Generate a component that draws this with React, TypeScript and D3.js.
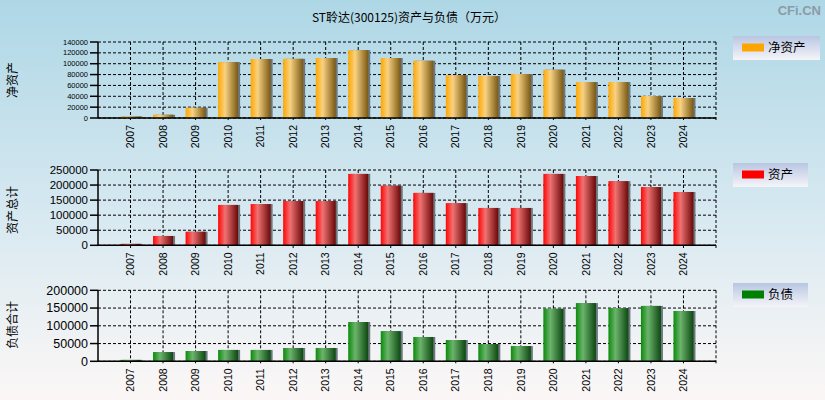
import React from "react";
import * as d3 from "d3";

const years = ["2007","2008","2009","2010","2011","2012","2013","2014","2015","2016","2017","2018","2019","2020","2021","2022","2023","2024"];
const netAssets = [2800, 6000, 19000, 103000, 108700, 109000, 110500, 125000, 110500, 105500, 79000, 77400, 81000, 89000, 66300, 66300, 40500, 36800];
const totalAssets = [4800, 31000, 45000, 134000, 137000, 147000, 147000, 237000, 198000, 174000, 140000, 124000, 124000, 237000, 230000, 213000, 193500, 177000];
const liabilities = [4000, 26000, 29000, 32000, 32000, 37500, 37500, 110700, 85000, 68500, 60000, 48700, 43000, 148000, 164000, 150000, 156000, 141700];

const ticksNet = [0, 20000, 40000, 60000, 80000, 100000, 120000, 140000];
const ticksAssets = [0, 50000, 100000, 150000, 200000, 250000];
const ticksLiab = [0, 50000, 100000, 150000, 200000];

const TITLE = "ST聆达(300125)资产与负债（万元）";
const LATIN = "'Liberation Sans', Arial, sans-serif";
const CJK = "'Noto Sans CJK SC', 'Liberation Sans', sans-serif";

const X0 = 98, X1 = 716;
const x = d3.scaleLinear().domain([0, 19]).range([X0, X1]);

type PanelProps = {
  values: number[]; ticks: number[]; top: number; bottom: number; max: number;
  gradId: string; yTitle: string; titleY: number; tickFont: number;
  legend: string; legendColor: string; legendTop: number; legendW: number;
};

function Panel(p: PanelProps) {
  const y = d3.scaleLinear().domain([0, p.max]).range([p.bottom, p.top]);
  const bw = 20;
  return (
    <g>
      {p.ticks.map((t) => (
        <line key={"h" + t} x1={X0} x2={X1} y1={y(t)} y2={y(t)} stroke="#000" strokeDasharray="3,2" strokeWidth={1} />
      ))}
      {years.map((yr, i) => (
        <line key={"v" + yr} x1={x(i + 1)} x2={x(i + 1)} y1={p.top} y2={p.bottom + 4} stroke="#000" strokeDasharray="3,2" strokeWidth={1} />
      ))}
      <line x1={X1} x2={X1} y1={p.top} y2={p.bottom + 4} stroke="#000" strokeDasharray="3,2" />
      {p.values.map((v, i) => {
        const cx = x(i + 1);
        const yt = y(v);
        const h = p.bottom - yt;
        return (
          <g key={"b" + i}>
            <rect x={cx - bw / 2 + 2} y={yt} width={bw} height={h} fill="#6b777d" />
            <rect x={cx - bw / 2} y={yt} width={bw} height={h} fill={`url(#${p.gradId})`} />
          </g>
        );
      })}
      <line x1={X0} x2={X0} y1={p.top} y2={p.bottom} stroke="#000" strokeWidth={1.5} />
      <line x1={X0} x2={X1} y1={p.bottom} y2={p.bottom} stroke="#000" strokeWidth={1.5} />
      {p.ticks.map((t) => (
        <g key={"t" + t}>
          <line x1={X0 - 8} x2={X0} y1={y(t)} y2={y(t)} stroke="#000" strokeWidth={1.5} />
          <text x={X0 - 10} y={y(t)} dy="0.35em" textAnchor="end" fontFamily={LATIN} fontSize={p.tickFont} fill="#000">{t}</text>
        </g>
      ))}
      {years.map((yr, i) => (
        <text key={"x" + yr} transform={`translate(${x(i + 1)},${p.bottom + 7}) rotate(-90)`} dy="0.35em" textAnchor="end" fontFamily={LATIN} fontSize={10.5} fill="#000">{yr}</text>
      ))}
      <text transform={`translate(13,${p.titleY}) rotate(-90)`} dy="0.35em" textAnchor="middle" fontFamily={CJK} fontSize={12} fill="#000">{p.yTitle}</text>
      <rect x={733} y={p.legendTop} width={p.legendW} height={24} fill="url(#legendGrad)" />
      <rect x={742} y={p.legendTop + 7.5} width={22} height={8} fill={p.legendColor} />
      <text x={768} y={p.legendTop + 12} dy="0.35em" fontFamily={CJK} fontSize={12.5} fill="#000">{p.legend}</text>
    </g>
  );
}

function grad(id: string, c0: string, c1: string, c2: string) {
  return (
    <linearGradient id={id} x1="0" x2="1" y1="0" y2="0">
      <stop offset="0" stopColor={c0} />
      <stop offset="0.35" stopColor={c1} />
      <stop offset="1" stopColor={c2} />
    </linearGradient>
  );
}

export default function App() {
  return (
    <svg width={825} height={400} style={{ position: "absolute", left: 0, top: 0 }}>
      <defs>
        <linearGradient id="bgGrad" x1="0" x2="0" y1="0" y2="1">
          <stop offset="0" stopColor="#aed7e6" />
          <stop offset="0.55" stopColor="#d8e9f1" />
          <stop offset="1" stopColor="#fcf7f6" />
        </linearGradient>
        <linearGradient id="legendGrad" x1="0" x2="0" y1="0" y2="1">
          <stop offset="0" stopColor="#b9c6e2" />
          <stop offset="1" stopColor="#f5f5f9" />
        </linearGradient>
        {grad("gOrange", "#ffa700", "#f8d283", "#7a5812")}
        {grad("gRed", "#ff0505", "#f07272", "#6a0808")}
        {grad("gGreen", "#0b8a0b", "#6cb46c", "#0c4711")}
      </defs>
      <rect x={0} y={0} width={825} height={400} fill="url(#bgGrad)" />
      <text x={409} y={18} dy="0.35em" textAnchor="middle" fontFamily={CJK} fontSize={12} fill="#000">{TITLE}</text>
      <text x={821} y={10} dy="0.35em" textAnchor="end" fontFamily={LATIN} fontWeight="bold" fontSize={13} fill="#8c9ba6">CFi.CN</text>
      <Panel values={netAssets} ticks={ticksNet} top={42} bottom={118} max={140000} gradId="gOrange"
        yTitle="净资产" titleY={80} tickFont={7.5} legend="净资产" legendColor="#ffa500" legendTop={36} legendW={87} />
      <Panel values={totalAssets} ticks={ticksAssets} top={170} bottom={245.3} max={250000} gradId="gRed"
        yTitle="资产总计" titleY={210} tickFont={11.5} legend="资产" legendColor="#ff0000" legendTop={163} legendW={75} />
      <Panel values={liabilities} ticks={ticksLiab} top={290.3} bottom={361.3} max={200000} gradId="gGreen"
        yTitle="负债合计" titleY={325} tickFont={12.5} legend="负债" legendColor="#008000" legendTop={283} legendW={75} />
    </svg>
  );
}
